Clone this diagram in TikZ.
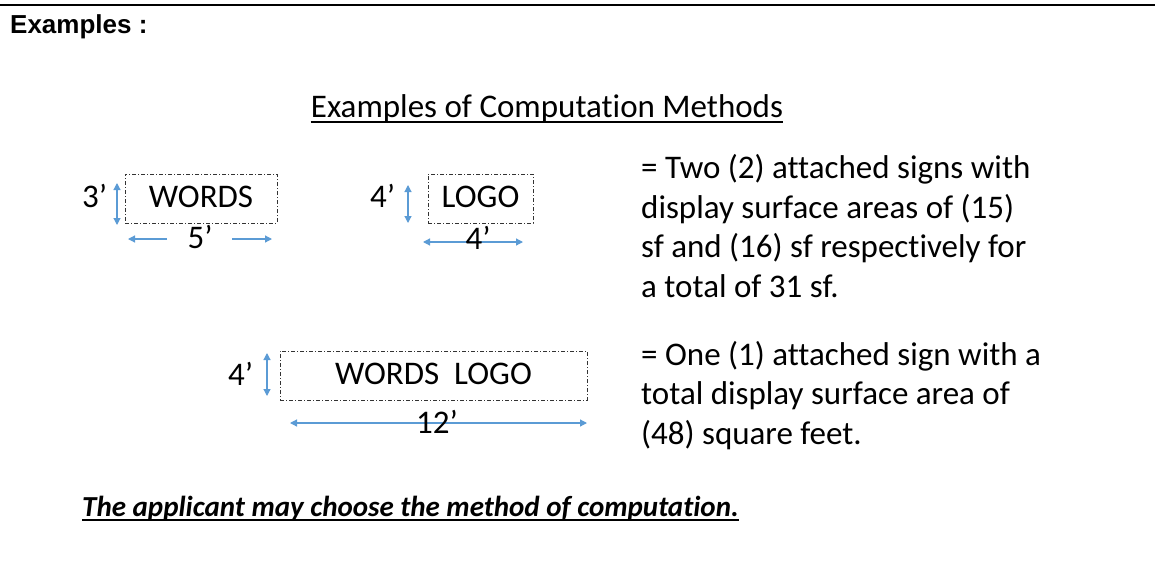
\documentclass[tikz,border=0pt]{standalone}
\usepackage{fontspec}
\setmainfont{Carlito}[Ligatures={CommonOff}]
\newfontfamily\headfont{Liberation Sans}
\usetikzlibrary{arrows.meta}
\definecolor{dimblue}{HTML}{5B9BD5}
\tikzset{
  txt/.style={inner sep=0pt, anchor=base west, font=\fontsize{33}{40}\selectfont},
  signbox/.style={draw=black!80, line width=0.8pt, dash pattern=on 4pt off 2pt on 1pt off 2pt,
    inner sep=0pt, minimum height=49pt, text height=21pt, text depth=4pt, font=\fontsize{33}{40}\selectfont},
  dimarrow/.style={draw=dimblue, line width=1.2pt, -{Triangle[length=7pt,width=7pt]}},
  dimboth/.style={dimarrow, {Triangle[length=7pt,width=7pt]}-{Triangle[length=7pt,width=7pt]}},
}
\begin{document}
\begin{tikzpicture}[x=1pt,y=-1pt]
\useasboundingbox (0,0) rectangle (1155,573);
\draw[line width=2pt] (0,5.3) -- (1155,5.3);
\node (head) at (10,33) [anchor=base west, inner sep=0pt, font=\headfont\bfseries\fontsize{26}{30}\selectfont] {Examples :};

\node (title) at (547,117) [txt, anchor=base] {Examples of Computation Methods};
\draw[line width=1.5pt] ([yshift=-5pt]title.base west) -- ([yshift=-5pt]title.base east);

\node (words) at (201,198.5) [signbox, minimum width=152pt] {WORDS};
\node (w3) at (82,207) [txt] {3’};
\coordinate (w3a) at (117,183);
\coordinate (w3b) at (117,225);
\draw[dimboth] (w3a) -- (w3b);
\node (w5) at (200,248) [txt, anchor=base] {5’};
\coordinate (w5la) at (167,239);
\coordinate (w5lb) at (128,239);
\coordinate (w5ra) at (232,239);
\coordinate (w5rb) at (272,239);
\draw[dimarrow] (w5la) -- (w5lb);
\draw[dimarrow] (w5ra) -- (w5rb);

\node (logo) at (480.5,198.5) [signbox, minimum width=105pt] {LOGO};
\node (l4) at (370,207) [txt] {4’};
\coordinate (l4a) at (408,185);
\coordinate (l4b) at (408,223);
\draw[dimboth] (l4a) -- (l4b);
\coordinate (l4l) at (423,242);
\coordinate (l4r) at (523,242);
\draw[dimboth] (l4l) -- (l4r);
\node (l4w) at (478,249) [txt, anchor=base] {4’};

\node (two1) at (641,178) [txt] {= Two (2) attached signs with};
\node (two2) at (641,218) [txt] {display surface areas of (15)};
\node (two3) at (641,257) [txt] {sf and (16) sf respectively for};
\node (two4) at (641,297) [txt] {a total of 31 sf.};

\node (wordslogo) at (433.5,375.5) [signbox, minimum width=307pt, text depth=3pt] {WORDS\ \ LOGO};
\node (wl4) at (228,385) [txt] {4’};
\coordinate (wl4a) at (267,353);
\coordinate (wl4b) at (267,396);
\draw[dimboth] (wl4a) -- (wl4b);
\coordinate (wl12l) at (290,423);
\coordinate (wl12r) at (587,423);
\draw[dimboth] (wl12l) -- (wl12r);
\node (wl12) at (437,433) [txt, anchor=base] {12’};

\node (one1) at (641,365) [txt] {= One (1) attached sign with a};
\node (one2) at (641,404) [txt] {total display surface area of};
\node (one3) at (641,444) [txt] {(48) square feet.};

\node (choose) at (82,516) [txt, font=\bfseries\itshape\fontsize{29}{34}\selectfont] {The applicant may choose the method of computation.};
\draw[line width=1.5pt] ([yshift=-4pt]choose.base west) -- ([yshift=-4pt]choose.base east);
\end{tikzpicture}
\end{document}
